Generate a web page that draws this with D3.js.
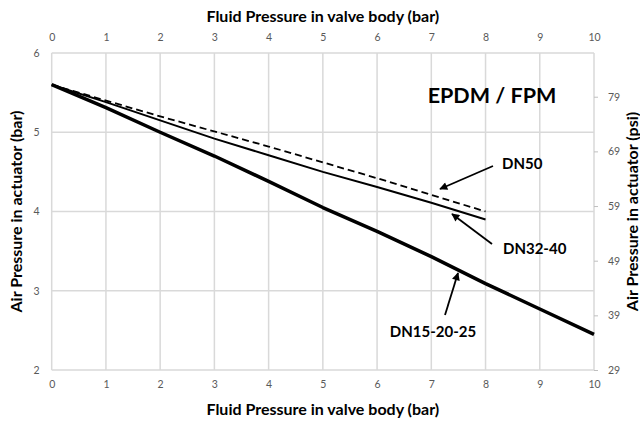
<!DOCTYPE html>
<html><head><meta charset="utf-8">
<script src="https://cdn.jsdelivr.net/npm/d3@7"></script>
<style>body{margin:0;background:#fff}svg{display:block}</style>
</head><body><svg id="c" width="640" height="422"></svg>
<script>
const xTicks = [0,1,2,3,4,5,6,7,8,9,10];
const yTicks = [2,3,4,5,6];
const psiTicks = [29,39,49,59,69,79];
const dn15X = [0,1,2,3,4,5,6,7,8,9,10];
const dn15Y = [5.6,5.31,5.0,4.7,4.38,4.05,3.75,3.43,3.09,2.77,2.45];
const dn32X = [0,1,2,3,4,5,6,7,8];
const dn32Y = [5.6,5.38,5.15,4.92,4.71,4.5,4.31,4.11,3.9];
const dn50X = [0,2,4,6,8];
const dn50Y = [5.6,5.2,4.82,4.42,4.0];
const seriesNames = ["DN15-20-25","DN32-40","DN50"];

const svg = d3.select("#c");
const font = "Lato, 'Open Sans', sans-serif";
const x = d3.scaleLinear().domain([0,10]).range([51.7,594]);
const y = d3.scaleLinear().domain([2,6]).range([370,53]);
const yPsi = d3.scaleLinear().domain([29,87]).range([370,53]);

// grid
const g = svg.append("g");
g.selectAll("line.v").data(xTicks).join("line")
  .attr("x1",d=>x(d)).attr("x2",d=>x(d)).attr("y1",y(6)).attr("y2",y(2))
  .attr("stroke","#d9d9d9").attr("stroke-width",1.5);
g.selectAll("line.h").data(yTicks).join("line")
  .attr("y1",d=>y(d)).attr("y2",d=>y(d)).attr("x1",x(0)).attr("x2",x(10))
  .attr("stroke","#d9d9d9").attr("stroke-width",1.5);

function styleAxis(a){
  a.select(".domain").remove();
  a.selectAll("text").attr("fill","#595959").style("font-family",font).style("font-size","10.5px");
}
const axTop = svg.append("g").attr("transform",`translate(0,${y(6)})`)
  .call(d3.axisTop(x).tickValues(xTicks).tickSize(0).tickPadding(12).tickFormat(d3.format("d")));
styleAxis(axTop);
const axBot = svg.append("g").attr("transform",`translate(0,${y(2)})`)
  .call(d3.axisBottom(x).tickValues(xTicks).tickSize(0).tickPadding(11).tickFormat(d3.format("d")));
styleAxis(axBot);
const axL = svg.append("g").attr("transform",`translate(${x(0)},0)`)
  .call(d3.axisLeft(y).tickValues(yTicks).tickSize(0).tickPadding(12).tickFormat(d3.format("d")));
styleAxis(axL);
const axR = svg.append("g").attr("transform",`translate(${x(10)},0)`)
  .call(d3.axisRight(yPsi).tickValues(psiTicks).tickSize(4).tickPadding(10).tickFormat(d3.format("d")));
styleAxis(axR);
axR.selectAll("line").attr("stroke","#bfbfbf");

// titles
const tstyle = s => s.attr("font-family",font).attr("font-weight","bold").attr("font-size","16px").attr("fill","#000").attr("text-anchor","middle").attr("dominant-baseline","central");
tstyle(svg.append("text").attr("x",(x(0)+x(10))/2).attr("y",15).text("Fluid Pressure in valve body (bar)"));
tstyle(svg.append("text").attr("x",(x(0)+x(10))/2).attr("y",408).text("Fluid Pressure in valve body (bar)"));
tstyle(svg.append("text").attr("transform",`translate(15,${(y(2)+y(6))/2}) rotate(-90)`).text("Air Pressure in actuator (bar)"));
tstyle(svg.append("text").attr("transform",`translate(631,${(y(2)+y(6))/2}) rotate(-90)`).text("Air Pressure in actuator (psi)"));

// lines
const line = d3.line().x(d=>x(d[0])).y(d=>y(d[1]));
const zip = (a,b)=>a.map((v,i)=>[v,b[i]]);
svg.append("path").datum(zip(dn50X,dn50Y)).attr("d",line).attr("fill","none")
  .attr("stroke","#000").attr("stroke-width",1.8).attr("stroke-dasharray","7,4");
svg.append("path").datum(zip(dn32X,dn32Y)).attr("d",line).attr("fill","none")
  .attr("stroke","#000").attr("stroke-width",2);
svg.append("path").datum(zip(dn15X,dn15Y)).attr("d",line).attr("fill","none")
  .attr("stroke","#000").attr("stroke-width",3.5).attr("stroke-linejoin","round");

// annotations
svg.append("defs").append("marker").attr("id","ah").attr("viewBox","0 0 10 10")
  .attr("refX",9).attr("refY",5).attr("markerWidth",10).attr("markerHeight",8)
  .attr("markerUnits","userSpaceOnUse").attr("orient","auto")
  .append("path").attr("d","M0,0L10,5L0,10Z").attr("fill","#000");
const arrows = [[493,166,440,189],[492,244,452,214],[445,315,458,273]];
svg.selectAll("line.arr").data(arrows).join("line")
  .attr("x1",d=>d[0]).attr("y1",d=>d[1]).attr("x2",d=>d[2]).attr("y2",d=>d[3])
  .attr("stroke","#000").attr("stroke-width",1.8).attr("marker-end","url(#ah)");
const lab = (t,xx,yy,sz,anchor)=>svg.append("text").attr("x",xx).attr("y",yy).text(t)
  .attr("font-family",font).attr("font-weight","bold").attr("font-size",sz).attr("text-anchor",anchor||"start").attr("dominant-baseline","central");
lab("EPDM / FPM",492,95,"21.5px","middle");
lab(seriesNames[2],502,163,"15px");
lab(seriesNames[1],503,248,"15px");
lab(seriesNames[0],433,331,"15px","middle");
</script></body></html>
